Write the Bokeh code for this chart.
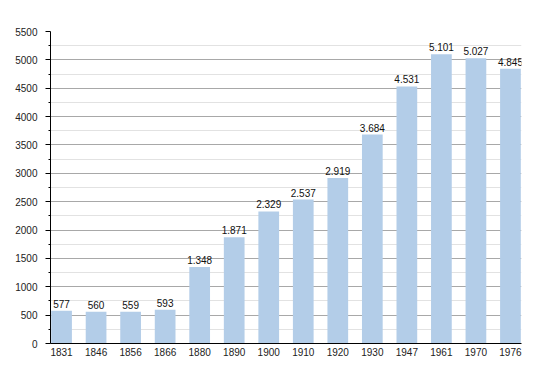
from bokeh.plotting import figure
from bokeh.models import Range1d, FixedTicker, ColumnDataSource
from bokeh.core.properties import value
from bokeh.embed import file_html
from bokeh.resources import INLINE

years = ["1831", "1846", "1856", "1866", "1880", "1890", "1900", "1910",
         "1920", "1930", "1947", "1961", "1970", "1976"]
population = [577, 560, 559, 593, 1348, 1871, 2329, 2537, 2919, 3684,
              4531, 5101, 5027, 4845]
y_ticks = [0, 500, 1000, 1500, 2000, 2500, 3000, 3500, 4000, 4500, 5000, 5500]
y_minor = [250, 750, 1250, 1750, 2250, 2750, 3250, 3750, 4250, 4750, 5250]


def fmt(v):
    return f"{v:,}".replace(",", ".")


xs = list(range(len(years)))
src = ColumnDataSource(dict(x=xs, y=population, lab=[fmt(v) for v in population]))

p = figure(width=542, height=365, output_backend="svg", toolbar_location=None,
           x_range=Range1d(-0.32, 13.32), y_range=Range1d(0, 5500))
p.min_border_left = 50
p.min_border_right = 21
p.min_border_top = 31
p.min_border_bottom = 22
p.outline_line_color = None
p.background_fill_color = "white"

p.vbar(x="x", top="y", width=0.6, source=src, fill_color="#b3cde8",
       line_color=None)
p.text(x="x", y="y", text="lab", source=src, text_align="center",
       text_baseline="bottom", y_offset=-3, text_font_size="10px",
       text_font=value("Liberation Sans"), text_color="#111111")

font = "Liberation Sans"
p.xaxis.ticker = FixedTicker(ticks=xs)
p.xaxis.major_label_overrides = {i: y for i, y in enumerate(years)}
p.xaxis.major_tick_line_color = None
p.xaxis.minor_tick_line_color = None
p.xaxis.major_tick_out = 0
p.xaxis.major_label_standoff = 4
p.xaxis.axis_line_color = "black"

p.yaxis.ticker = FixedTicker(ticks=y_ticks, minor_ticks=y_minor)
p.yaxis.major_tick_out = 5
p.yaxis.major_tick_in = 0
p.yaxis.minor_tick_out = 2
p.yaxis.minor_tick_in = 0
p.yaxis.major_label_standoff = 8
p.yaxis.axis_line_color = "black"
p.yaxis.major_tick_line_color = "black"
p.yaxis.minor_tick_line_color = "black"

for ax in (p.xaxis, p.yaxis):
    ax.major_label_text_font = font
    ax.major_label_text_font_size = "10px"
    ax.major_label_text_color = "#222222"

p.xgrid.grid_line_color = None
p.ygrid.grid_line_color = "#a8a8a8"
p.ygrid.minor_grid_line_color = "#e2e2e2"

open("out.html", "w").write(file_html(p, INLINE))
